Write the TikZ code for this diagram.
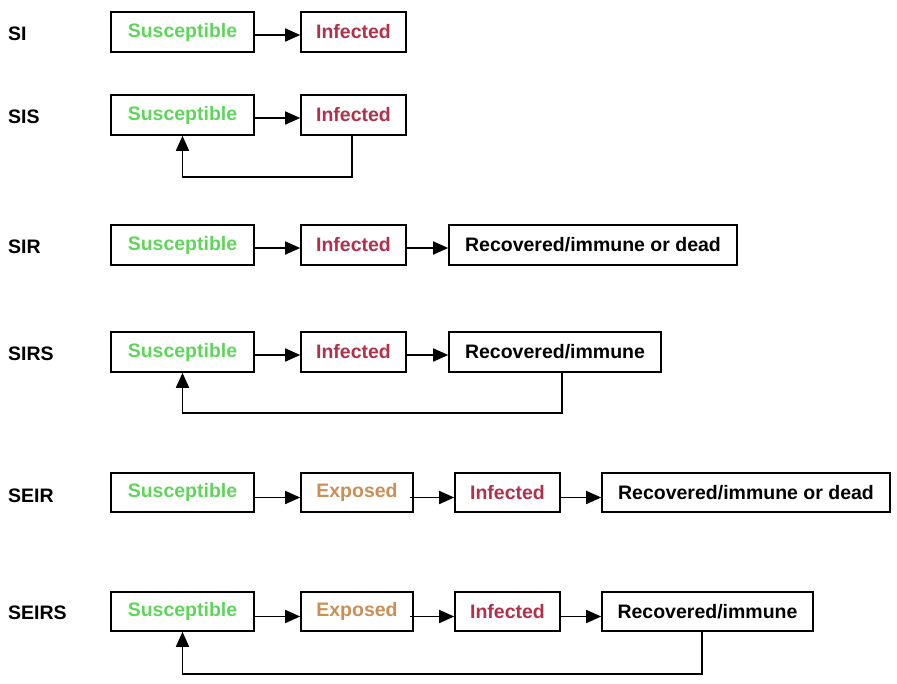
\documentclass[tikz,border=0pt]{standalone}
\usepackage{fontspec}
\setmainfont{Liberation Sans}
\usetikzlibrary{arrows.meta,calc}
\definecolor{sgreen}{HTML}{5FD65A}
\definecolor{ired}{HTML}{B3304C}
\definecolor{etan}{HTML}{C98F57}
\begin{document}
\begin{tikzpicture}[x=1pt,y=-1pt,
  font=\fontsize{19.5}{22}\selectfont\bfseries,
  box/.style={draw=black,line width=1.6pt,rectangle,inner sep=0pt,minimum height=40pt},
  sbox/.style={box,minimum width=143pt,text=sgreen},
  ibox/.style={box,minimum width=105pt,text=ired},
  ebox/.style={box,minimum width=112pt,text=etan},
  rbox/.style={box,text=black},
  lbl/.style={anchor=west,inner sep=0pt,text=black},
  arr/.style={line width=1.6pt,-{Triangle[length=15pt,width=13pt]}},
  back/.style={line width=1.6pt,-{Triangle[length=15pt,width=13pt]}}]
\useasboundingbox (0,0) rectangle (897,683);
% SI
\node[lbl] (l1) at (8,34) {SI};
\node[sbox] (s1) at (182.5,32) {Susceptible};
\node[ibox] (i1) at (353.5,32) {Infected};
\draw[arr] ([yshift=-3pt]s1.east) -- ([yshift=-3pt]i1.west);
% SIS
\node[lbl] (l2) at (8,117) {SIS};
\node[sbox] (s2) at (182.5,115) {Susceptible};
\node[ibox] (i2) at (353.5,115) {Infected};
\draw[arr] ([yshift=-3pt]s2.east) -- ([yshift=-3pt]i2.west);
\draw[back] ([xshift=-1.5pt]i2.south) -- ++(0,41) -| (s2.south);
% SIR
\node[lbl] (l3) at (8,247) {SIR};
\node[sbox] (s3) at (182.5,245) {Susceptible};
\node[ibox] (i3) at (353.5,245) {Infected};
\node[rbox,minimum width=288pt] (r3) at (593,245) {Recovered/immune or dead};
\draw[arr] ([yshift=-3pt]s3.east) -- ([yshift=-3pt]i3.west);
\draw[arr] ([yshift=-3pt,xshift=-2pt]i3.east) -- ([yshift=-3pt]r3.west);
% SIRS
\node[lbl] (l4) at (8,354) {SIRS};
\node[sbox] (s4) at (182.5,352) {Susceptible};
\node[ibox] (i4) at (353.5,352) {Infected};
\node[rbox,minimum width=212pt] (r4) at (555,352) {Recovered/immune};
\draw[arr] ([yshift=-3pt]s4.east) -- ([yshift=-3pt]i4.west);
\draw[arr] ([yshift=-3pt,xshift=-2pt]i4.east) -- ([yshift=-3pt]r4.west);
\draw[back] ([xshift=7pt]r4.south) -- ++(0,40) -| (s4.south);
% SEIR
\node[lbl] (l5) at (8,496) {SEIR};
\node[sbox,minimum height=39pt] (s5) at (182.5,492.5) {Susceptible};
\node[ebox,minimum height=39pt] (e5) at (357,492.5) {Exposed};
\node[ibox,minimum height=39pt] (i5) at (507.5,492.5) {Infected};
\node[rbox,minimum width=288pt,minimum height=39pt] (r5) at (746,492.5) {Recovered/immune or dead};
\draw[arr] ([yshift=-5pt]s5.east) -- ([yshift=-5pt]e5.west);
\draw[arr] ([yshift=-5pt,xshift=-4pt]e5.east) -- ([yshift=-5pt]i5.west);
\draw[arr] ([yshift=-5pt,xshift=-2pt]i5.east) -- ([yshift=-5pt]r5.west);
% SEIRS
\node[lbl] (l6) at (8,613) {SEIRS};
\node[sbox,minimum height=39pt] (s6) at (182.5,611.5) {Susceptible};
\node[ebox,minimum height=39pt] (e6) at (357,611.5) {Exposed};
\node[ibox,minimum height=39pt] (i6) at (507.5,611.5) {Infected};
\node[rbox,minimum width=211pt,minimum height=39pt] (r6) at (707.5,611.5) {Recovered/immune};
\draw[arr] ([yshift=-5pt]s6.east) -- ([yshift=-5pt]e6.west);
\draw[arr] ([yshift=-5pt,xshift=-4pt]e6.east) -- ([yshift=-5pt]i6.west);
\draw[arr] ([yshift=-5pt,xshift=-2pt]i6.east) -- ([yshift=-5pt]r6.west);
\draw[back] ([xshift=-5.5pt]r6.south) -- ++(0,42) -| (s6.south);
\end{tikzpicture}
\end{document}
